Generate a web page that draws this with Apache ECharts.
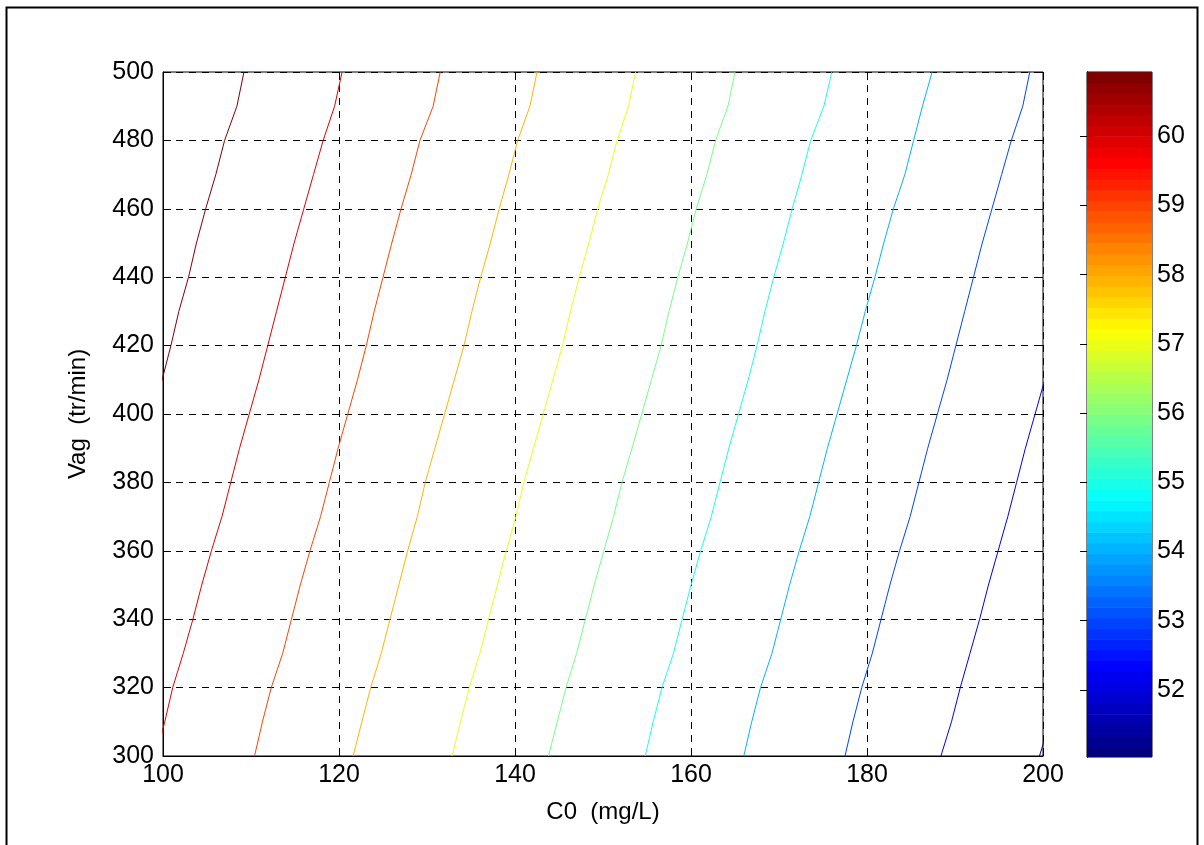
<!DOCTYPE html>
<html>
<head>
<meta charset="utf-8">
<script src="https://cdn.jsdelivr.net/npm/echarts@6/dist/echarts.min.js"></script>
<style>
html,body{margin:0;padding:0;background:#fff;}
#chart{width:1204px;height:845px;}
</style>
</head>
<body>
<div id="chart"></div>
<script>
// ---- data ----
const vagValues = [300,310,320,330,340,350,360,370,380,390,400,410,420,430,440,450,460,470,480,490,500];
const contourLevels = [60.93, 59.94, 58.95, 57.96, 56.97, 55.98, 54.99, 54.00, 53.01, 52.02, 51.03];
const c0Line1  = [88.2, 89.1, 90.1, 91.4, 92.4, 93.4, 94.5, 95.7, 96.7, 97.7, 98.8, 99.9, 100.9, 101.8, 102.9, 103.8, 104.85, 106.0, 107.0, 108.4, 109.2];
const c0Line2  = [99.2, 100.2, 101.1, 102.3, 103.4, 104.4, 105.5, 106.7, 107.7, 108.7, 109.8, 110.9, 111.9, 112.9, 113.9, 114.9, 116.0, 117.1, 118.2, 119.5, 120.35];
const c0Line3  = [110.4, 111.3, 112.3, 113.6, 114.6, 115.6, 116.7, 117.9, 118.9, 119.9, 121.0, 122.1, 123.1, 124.0, 125.0, 126.0, 127.05, 128.2, 129.2, 130.7, 131.5];
const c0Line4  = [121.6, 122.6, 123.6, 124.8, 125.8, 126.8, 127.8, 128.9, 129.8, 130.9, 132.0, 133.1, 134.2, 135.1, 136.1, 137.2, 138.2, 139.3, 140.3, 141.7, 142.5];
const c0Line5  = [132.85, 133.8, 134.8, 136.0, 137.0, 138.0, 139.0, 140.1, 141.0, 142.1, 143.2, 144.3, 145.4, 146.3, 147.3, 148.4, 149.4, 150.6, 151.6, 152.9, 153.7];
const c0Line6  = [143.8, 144.8, 145.8, 147.0, 148.0, 149.0, 150.1, 151.2, 152.15, 153.3, 154.4, 155.5, 156.6, 157.5, 158.5, 159.6, 160.6, 161.8, 162.8, 164.2, 165.0];
const c0Line7  = [154.8, 155.7, 156.7, 158.0, 159.0, 160.0, 161.1, 162.3, 163.3, 164.3, 165.4, 166.5, 167.5, 168.4, 169.4, 170.5, 171.5, 172.6, 173.6, 175.1, 176.0];
const c0Line8  = [166.0, 166.9, 167.9, 169.2, 170.2, 171.2, 172.3, 173.5, 174.5, 175.5, 176.6, 177.7, 178.8, 179.8, 180.9, 181.9, 183.0, 184.3, 185.3, 186.3, 187.4];
const c0Line9  = [177.5, 178.4, 179.4, 180.6, 181.6, 182.6, 183.7, 184.9, 185.9, 186.9, 188.0, 189.1, 190.1, 191.1, 192.1, 193.1, 194.2, 195.3, 196.4, 197.7, 198.5];
const c0Line10 = [188.4, 189.6, 190.6, 191.7, 192.8, 193.8, 194.9, 196.0, 197.0, 198.0, 199.1, 200.2, 201.2, 202.1, 203.1, 204.1, 205.2, 206.3, 207.3, 208.7, 209.5];
const c0Line11 = [199.6, 200.8, 201.9, 203.1, 204.1, 205.1, 206.2, 207.4, 208.4, 209.4, 210.5, 211.6, 212.6, 213.5, 214.5, 215.5, 216.6, 217.7, 218.7, 220.1, 220.9];
const contourC0 = [c0Line1,c0Line2,c0Line3,c0Line4,c0Line5,c0Line6,c0Line7,c0Line8,c0Line9,c0Line10,c0Line11];
const xTicks = [100,120,140,160,180,200];
const yTicks = [300,320,340,360,380,400,420,440,460,480,500];
const cbMin = 51.03, cbMax = 60.93;
const cbTickLabels = [52,53,54,55,56,57,58,59,60];

// ---- jet colormap (64 entries like MATLAB) ----
function clamp(v){return Math.max(0,Math.min(1,v));}
function jetAt(t){
  const r = clamp(1.5 - Math.abs(4*t-3));
  const g = clamp(1.5 - Math.abs(4*t-2));
  const b = clamp(1.5 - Math.abs(4*t-1));
  return 'rgb(' + Math.round(r*255) + ',' + Math.round(g*255) + ',' + Math.round(b*255) + ')';
}
const NCOL = 64;
function jetIndexColor(i){ return jetAt(i/(NCOL-1)); }
function levelColor(v){
  let i = Math.floor((v - cbMin)/(cbMax - cbMin)*NCOL);
  if (i > NCOL-1) i = NCOL-1; if (i < 0) i = 0;
  return jetIndexColor(i);
}
const cbBins = [];
for (let i=0;i<NCOL;i++){
  const lo = cbMin + (cbMax-cbMin)*i/NCOL, hi = cbMin + (cbMax-cbMin)*(i+1)/NCOL;
  cbBins.push([lo, hi, i]);
}

const FONT = '"Liberation Sans", Arial, Helvetica, sans-serif';
const FS = 25;
const NFS = 24;

const series = contourC0.map((arr, k) => ({
  type: 'line',
  xAxisIndex: 0, yAxisIndex: 0,
  data: arr.map((x, j) => [x, vagValues[j]]),
  showSymbol: false,
  symbol: 'none',
  clip: true,
  silent: true,
  lineStyle: { width: 1, color: levelColor(contourLevels[k]) },
  z: 5
}));

series.push({
  type: 'custom',
  xAxisIndex: 2, yAxisIndex: 2,
  data: cbBins,
  clip: true,
  silent: true,
  renderItem: function(params, api){
    const p0 = api.coord([0, api.value(0)]);
    const p1 = api.coord([1, api.value(1)]);
    const idx = api.value(2);
    return {
      type: 'rect',
      shape: { x: p0[0], y: p1[1], width: p1[0]-p0[0], height: p0[1]-p1[1] + 0.6 },
      style: { fill: jetIndexColor(idx) }
    };
  }
});

const gridLine = { show: true, lineStyle: { color: '#000', type: [7,6], width: 1 } };

const option = {
  animation: false,
  backgroundColor: '#fff',
  textStyle: { fontFamily: FONT },
  graphic: [{
    type: 'rect', left: 4, top: 5,
    shape: { width: 1191, height: 900 },
    style: { fill: 'none', stroke: '#000', lineWidth: 2 },
    silent: true, z: -1
  }],
  grid: [
    { left: 163, top: 72, right: 161, bottom: 89, show: true, borderColor: '#000', borderWidth: 1, backgroundColor: '#fff' },
    { left: 163, top: 72, right: 161, bottom: 89, show: false },
    { left: 1087, top: 72, right: 52, bottom: 88, show: true, borderColor: '#000', borderWidth: 1 }
  ],
  xAxis: [
    { type: 'value', gridIndex: 0, min: 100, max: 200, interval: 20, position: 'bottom',
      name: 'C0  (mg/L)', nameLocation: 'middle', nameGap: 44,
      nameTextStyle: { fontSize: NFS, color: '#000', fontFamily: FONT },
      axisLine: { show: true, onZero: false, lineStyle: { color: '#000', width: 1 } },
      axisTick: { show: true, inside: true, length: 8, lineStyle: { color: '#000' } },
      axisLabel: { fontSize: FS, color: '#000', margin: 7, fontFamily: FONT },
      splitLine: gridLine },
    { type: 'value', gridIndex: 1, min: 100, max: 200, interval: 20, position: 'top',
      axisLine: { show: false },
      axisTick: { show: true, inside: true, length: 8, lineStyle: { color: '#000' } },
      axisLabel: { show: false }, splitLine: { show: false } },
    { type: 'value', gridIndex: 2, min: 0, max: 1, show: false }
  ],
  yAxis: [
    { type: 'value', gridIndex: 0, min: 300, max: 500, interval: 20, position: 'left',
      name: 'Vag  (tr/min)', nameLocation: 'middle', nameGap: 73, nameRotate: 90,
      nameTextStyle: { fontSize: NFS, color: '#000', fontFamily: FONT },
      axisLine: { show: true, onZero: false, lineStyle: { color: '#000', width: 1 } },
      axisTick: { show: true, inside: true, length: 8, lineStyle: { color: '#000' } },
      axisLabel: { fontSize: FS, color: '#000', margin: 9, fontFamily: FONT },
      splitLine: gridLine },
    { type: 'value', gridIndex: 1, min: 300, max: 500, interval: 20, position: 'right',
      axisLine: { show: false },
      axisTick: { show: true, inside: true, length: 8, lineStyle: { color: '#000' } },
      axisLabel: { show: false }, splitLine: { show: false } },
    { type: 'value', gridIndex: 2, min: cbMin, max: cbMax, position: 'right',
      axisLine: { show: true, lineStyle: { color: '#000', width: 1 } },
      axisTick: { show: true, inside: true, length: 7, lineStyle: { color: '#000' }, customValues: cbTickLabels },
      axisLabel: { show: true, fontSize: FS, color: '#000', margin: 5, fontFamily: FONT, customValues: cbTickLabels },
      splitLine: { show: false } },
    { type: 'value', gridIndex: 2, min: cbMin, max: cbMax, position: 'left',
      axisLine: { show: true, lineStyle: { color: '#000', width: 1 } },
      axisTick: { show: true, inside: true, length: 7, lineStyle: { color: '#000' }, customValues: cbTickLabels },
      axisLabel: { show: false },
      splitLine: { show: false } }
  ],
  series: series
};

const chart = echarts.init(document.getElementById('chart'), null, { renderer: 'canvas' });
chart.setOption(option);
</script>
</body>
</html>
